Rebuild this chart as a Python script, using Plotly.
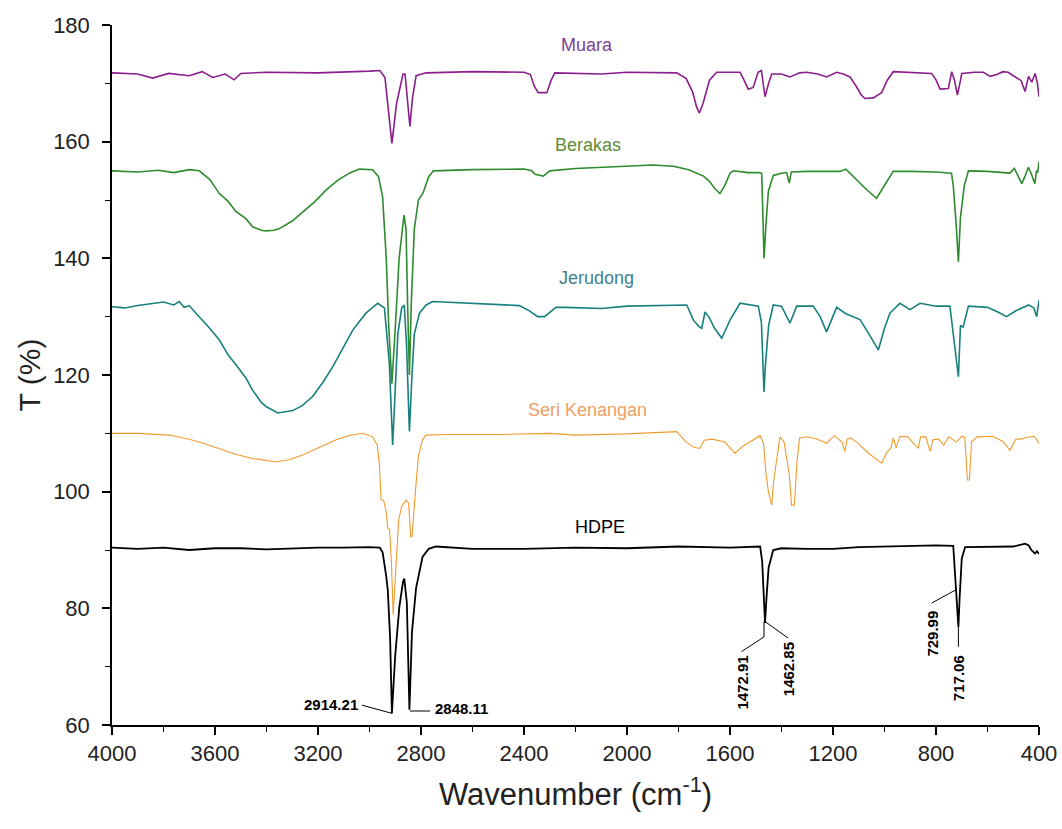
import plotly.graph_objects as go

# ---------------- data ----------------
muara_wn = [4000, 3900, 3842, 3780, 3700, 3650, 3609, 3560, 3526, 3500, 3400, 3200, 3000, 2960, 2940, 2925, 2913,
            2895, 2870, 2862, 2850, 2843, 2833, 2819, 2780, 2600, 2400, 2375, 2360, 2345, 2311, 2295, 2280, 2200,
            2100, 2000, 1900, 1807, 1770, 1745, 1730, 1719, 1705, 1680, 1652, 1600, 1561, 1545, 1529, 1510, 1491,
            1478, 1464, 1450, 1438, 1400, 1367, 1330, 1302, 1260, 1225, 1200, 1186, 1160, 1134, 1110, 1090, 1076,
            1043, 1011, 990, 966, 900, 850, 817, 800, 784, 752, 739, 728, 717, 705, 700, 650, 616, 590, 564, 540,
            520, 500, 470, 454, 441, 428, 415, 406, 400]
muara_t = [171.8, 171.6, 170.9, 171.7, 171.3, 172.0, 171.0, 171.6, 170.6, 171.7, 171.9, 171.8, 172.1, 172.2, 171.0,
           164.5, 159.7, 166.5, 171.6, 171.6, 166.0, 162.6, 167.5, 171.3, 171.8, 172.0, 171.9, 171.5, 169.5, 168.4,
           168.4, 170.5, 171.8, 171.7, 171.6, 171.9, 171.9, 171.8, 170.8, 168.5, 166.0, 164.9, 166.5, 170.5, 171.9,
           171.9, 171.9, 170.5, 169.0, 169.3, 171.9, 172.2, 167.7, 170.0, 171.6, 171.6, 171.1, 171.8, 171.9, 171.6,
           171.1, 171.6, 171.9, 171.6, 171.1, 169.5, 168.0, 167.4, 167.5, 168.4, 170.5, 172.0, 171.9, 171.8, 171.7,
           170.6, 169.0, 169.1, 172.0, 170.5, 168.0, 170.5, 171.7, 171.9, 171.9, 171.2, 171.5, 172.0, 171.9, 171.3,
           170.5, 168.6, 171.2, 170.2, 171.7, 170.0, 167.7]

berakas_wn = [4000, 3900, 3820, 3760, 3700, 3661, 3620, 3583, 3550, 3518, 3480, 3454, 3420, 3402, 3370, 3350, 3300,
              3259, 3210, 3169, 3120, 3078, 3040, 2988, 2965, 2949, 2935, 2925, 2913, 2900, 2885, 2866, 2858, 2852,
              2845, 2838, 2826, 2810, 2792, 2770, 2752, 2600, 2400, 2370, 2357, 2325, 2300, 2200, 2100, 2000, 1900,
              1820, 1760, 1703, 1680, 1660, 1639, 1620, 1600, 1587, 1530, 1490, 1477, 1472, 1468, 1460, 1451, 1432,
              1400, 1380, 1370, 1362, 1300, 1200, 1173, 1150, 1108, 1070, 1031, 1000, 966, 900, 800, 740, 733, 722,
              713, 705, 690, 674, 600, 513, 496, 480, 467, 455, 441, 430, 416, 410, 405, 400]
berakas_t = [155.0, 154.8, 155.1, 154.7, 155.2, 155.0, 153.5, 151.1, 149.8, 148.0, 146.8, 145.4, 144.8, 144.7, 144.8,
             145.1, 146.4, 148.0, 149.8, 151.7, 153.5, 154.6, 155.3, 155.2, 154.0, 150.5, 140.0, 128.0, 118.5, 128.0,
             140.0, 147.4, 145.0, 132.0, 120.0, 132.0, 145.0, 150.0, 151.2, 154.0, 155.0, 155.2, 155.3, 155.0, 154.4,
             154.1, 155.0, 155.4, 155.6, 155.7, 156.0, 155.8, 155.2, 154.1, 153.2, 152.0, 151.1, 152.5, 154.6, 155.0,
             154.7, 154.7, 154.6, 147.0, 140.0, 146.0, 151.5, 154.2, 154.6, 154.7, 152.9, 154.8, 154.9, 154.9, 154.9,
             155.3, 153.4, 151.8, 150.3, 152.5, 154.9, 154.9, 154.8, 154.6, 152.5, 146.0, 139.4, 147.0, 152.5, 155.0,
             154.9, 154.6, 155.4, 154.0, 152.8, 154.0, 155.6, 154.5, 152.8, 155.0, 154.7, 156.6]

jerudong_wn = [4000, 3950, 3900, 3850, 3800, 3760, 3739, 3720, 3700, 3674, 3630, 3583, 3550, 3518, 3480, 3454, 3420,
               3402, 3356, 3298, 3260, 3221, 3180, 3143, 3100, 3065, 3014, 2968, 2942, 2923, 2910, 2900, 2890, 2875,
               2865, 2856, 2845, 2835, 2826, 2806, 2780, 2755, 2600, 2418, 2379, 2347, 2320, 2276, 2237, 2100, 2000,
               1900, 1800, 1768, 1742, 1720, 1710, 1697, 1680, 1660, 1632, 1600, 1561, 1520, 1490, 1478, 1468, 1462,
               1450, 1432, 1400, 1367, 1341, 1277, 1250, 1225, 1186, 1150, 1095, 1060, 1024, 1000, 979, 940, 901, 862,
               800, 746, 726, 713, 705, 695, 674, 600, 560, 526, 490, 460, 440, 420, 409, 400]
jerudong_t = [131.7, 131.5, 131.9, 132.2, 132.5, 132.0, 132.6, 131.6, 131.9, 130.6, 128.5, 126.0, 123.5, 121.7, 119.5,
              117.4, 115.3, 114.6, 113.5, 113.9, 114.8, 116.3, 118.8, 121.4, 124.8, 127.7, 130.6, 132.3, 131.5, 122.0,
              108.0, 118.0, 127.0, 131.5, 132.0, 125.0, 110.3, 120.0, 127.0, 130.6, 132.0, 132.6, 132.3, 131.9, 131.0,
              130.0, 130.0, 131.6, 131.6, 131.4, 131.8, 131.9, 132.0, 132.0, 129.4, 128.3, 128.0, 130.8, 129.8, 128.0,
              126.3, 129.4, 132.3, 132.0, 131.8, 129.0, 117.1, 122.0, 128.5, 132.0, 131.8, 128.9, 131.8, 131.8, 130.0,
              127.4, 131.6, 130.5, 129.5, 127.0, 124.3, 128.0, 130.6, 132.3, 131.2, 132.3, 131.8, 131.8, 124.9, 119.7,
              128.5, 128.2, 131.8, 131.6, 130.8, 130.0, 131.0, 131.6, 132.0, 131.5, 130.0, 132.8]

seri_wn = [4000, 3900, 3777, 3700, 3640, 3583, 3520, 3454, 3400, 3363, 3310, 3259, 3200, 3130, 3070, 3026, 2988, 2970,
           2962, 2955, 2945, 2935, 2929, 2922, 2915, 2908, 2900, 2887, 2875, 2858, 2848, 2840, 2835, 2828, 2817, 2810,
           2795, 2781, 2700, 2500, 2300, 2200, 2000, 1807, 1790, 1770, 1740, 1717, 1700, 1670, 1620, 1581, 1550, 1510,
           1483, 1470, 1460, 1451, 1438, 1430, 1418, 1406, 1390, 1370, 1361, 1350, 1340, 1330, 1300, 1260, 1225, 1195,
           1165, 1154, 1145, 1130, 1100, 1060, 1011, 990, 975, 966, 955, 940, 910, 880, 869, 860, 840, 823, 812, 790,
           770, 750, 720, 700, 688, 678, 670, 662, 640, 580, 540, 513, 490, 470, 450, 420, 410, 400]
seri_t = [110.0, 110.0, 109.7, 109.0, 108.2, 107.4, 106.4, 105.7, 105.3, 105.1, 105.5, 106.3, 107.5, 108.9, 109.7,
          110.0, 109.4, 108.0, 104.9, 98.6, 98.5, 96.5, 93.7, 93.5, 88.0, 78.9, 85.0, 95.1, 97.5, 98.6, 98.0, 92.3, 92.3,
          97.0, 102.6, 106.0, 108.8, 109.7, 109.8, 109.8, 110.0, 109.7, 109.9, 110.3, 109.5, 108.5, 107.6, 107.4, 108.8,
          109.0, 108.5, 106.6, 107.8, 108.8, 109.6, 108.3, 103.0, 100.0, 97.7, 102.0, 106.0, 109.4, 108.5, 103.0, 97.7,
          97.7, 105.0, 109.2, 109.4, 109.0, 108.3, 109.6, 108.5, 106.9, 109.0, 109.2, 108.2, 106.5, 104.9, 106.8, 107.5,
          109.2, 107.5, 109.5, 109.4, 108.0, 107.4, 109.4, 109.4, 106.9, 108.9, 109.0, 108.0, 109.4, 108.5, 109.5, 109.3,
          102.0, 102.0, 108.5, 109.4, 109.5, 108.6, 107.1, 109.0, 109.0, 109.3, 109.5, 109.0, 108.2]

hdpe_wn = [4000, 3900, 3800, 3700, 3600, 3500, 3400, 3300, 3200, 3100, 3000, 2960, 2949, 2935, 2929, 2920, 2913, 2900,
           2884, 2870, 2865, 2855, 2845, 2835, 2819, 2794, 2770, 2742, 2600, 2400, 2200, 2000, 1800, 1600, 1483, 1475,
           1470, 1464, 1458, 1450, 1432, 1400, 1300, 1200, 1100, 1000, 900, 800, 733, 726, 720, 713, 708, 700, 687,
           600, 500, 454, 440, 430, 416, 408, 400]
hdpe_t = [90.4, 90.2, 90.4, 90.0, 90.3, 90.3, 90.1, 90.3, 90.4, 90.4, 90.5, 90.4, 89.6, 85.5, 83.1, 75.0, 62.0, 72.0,
          80.3, 84.5, 85.1, 81.0, 62.6, 76.0, 83.5, 88.8, 90.2, 90.6, 90.2, 90.2, 90.4, 90.3, 90.6, 90.4, 90.6, 88.0,
          82.0, 77.5, 82.0, 87.0, 90.0, 90.3, 90.2, 90.2, 90.5, 90.6, 90.6, 90.8, 90.7, 85.4, 81.0, 76.8, 82.0, 88.5,
          90.5, 90.5, 90.6, 91.1, 90.8, 90.0, 89.4, 89.8, 89.3]

series_names = ["Muara", "Berakas", "Jerudong", "Seri Kenangan", "HDPE"]
peak_labels = ["2914.21", "2848.11", "1472.91", "1462.85", "729.99", "717.06"]
x_ticks = [4000, 3600, 3200, 2800, 2400, 2000, 1600, 1200, 800, 400]
y_ticks = [60, 80, 100, 120, 140, 160, 180]

# ---------------- styling ----------------
FONT = "Liberation Sans, Arial, sans-serif"
line_colors = ["#8B1E8B", "#2E8B2E", "#17807E", "#F39A2E", "#000000"]
text_colors = ["#7E3F98", "#5E8B3A", "#3F7F8F", "#EDA063", "#000000"]
line_widths = [1.6, 1.6, 1.6, 1.1, 1.8]
label_pos = [(2155, 176.6), (2151, 159.4), (2120, 136.6), (2155, 114.0), (2103, 94.0)]

data = [(muara_wn, muara_t), (berakas_wn, berakas_t), (jerudong_wn, jerudong_t),
        (seri_wn, seri_t), (hdpe_wn, hdpe_t)]

fig = go.Figure()
for (wn, t), name, c, w in zip(data, series_names, line_colors, line_widths):
    fig.add_trace(go.Scatter(x=wn, y=t, mode="lines", name=name,
                             line=dict(color=c, width=w), showlegend=False))

# series labels
for name, (lx, ly), tc in zip(series_names, label_pos, text_colors):
    fig.add_annotation(x=lx, y=ly, text=name, showarrow=False,
                       font=dict(family=FONT, size=18, color=tc))

# peak annotation leaders
leaders = [
    [(3029, 63.4), (2913, 62.0)],
    [(2843, 62.4), (2765, 62.4)],
    [(1468, 77.7), (1468, 75.1), (1555, 72.6)],
    [(1463, 77.7), (1374, 74.9)],
    [(726, 83.1), (817, 80.9)],
    [(713, 76.8), (713, 73.4)],
]
for pts in leaders:
    for (x0, y0), (x1, y1) in zip(pts[:-1], pts[1:]):
        fig.add_shape(type="line", x0=x0, y0=y0, x1=x1, y1=y1, xref="x", yref="y",
                      line=dict(color="black", width=1))

peak_text_pos = [
    dict(x=3037, y=63.6, xanchor="right", yanchor="middle", textangle=0),
    dict(x=2753, y=62.9, xanchor="left", yanchor="middle", textangle=0),
    dict(x=1555, y=67.2, xanchor="center", yanchor="middle", textangle=-90),
    dict(x=1374, y=69.6, xanchor="center", yanchor="middle", textangle=-90),
    dict(x=817, y=75.6, xanchor="center", yanchor="middle", textangle=-90),
    dict(x=713, y=68.1, xanchor="center", yanchor="middle", textangle=-90),
]
for lab, p in zip(peak_labels, peak_text_pos):
    fig.add_annotation(text="<b>%s</b>" % lab, showarrow=False,
                       font=dict(family=FONT, size=15, color="black"), **p)

axis_common = dict(showline=True, linecolor="black", linewidth=1.5, showgrid=False, zeroline=False,
                   ticks="outside", ticklen=8, tickwidth=1.5, tickcolor="black",
                   tickfont=dict(family=FONT, size=22, color="#222222"), mirror=False,
                   ticklabeloverflow="allow")

fig.update_xaxes(range=[4000, 400], tickmode="array", tickvals=x_ticks,
                 ticktext=[str(v) for v in x_ticks],
                 minor=dict(ticks="outside", ticklen=5, tickwidth=1.2, tickcolor="black", dtick=200,
                            tick0=400, showgrid=False),
                 title=dict(text="Wavenumber (cm<sup>-1</sup>)", font=dict(family=FONT, size=31, color="#222222"),
                            standoff=18),
                 **axis_common)
fig.update_yaxes(range=[60, 180], tickmode="array", tickvals=y_ticks,
                 ticktext=[str(v) for v in y_ticks],
                 minor=dict(ticks="outside", ticklen=5, tickwidth=1.2, tickcolor="black", dtick=10,
                            tick0=60, showgrid=False),
                 ticklabelstandoff=8,
                 title=dict(text="T (%)", font=dict(family=FONT, size=30, color="#222222"), standoff=4),
                 **axis_common)

fig.update_layout(width=1062, height=829, paper_bgcolor="white", plot_bgcolor="white",
                  margin=dict(l=112, r=23, t=25, b=104, autoexpand=False), showlegend=False)

# remove the page's default body margin so the figure fills the window exactly; hide the modebar
fig.write_html("out.html", config={"displayModeBar": False},
               post_script="document.body.style.margin='0';document.body.style.overflow='hidden';")
